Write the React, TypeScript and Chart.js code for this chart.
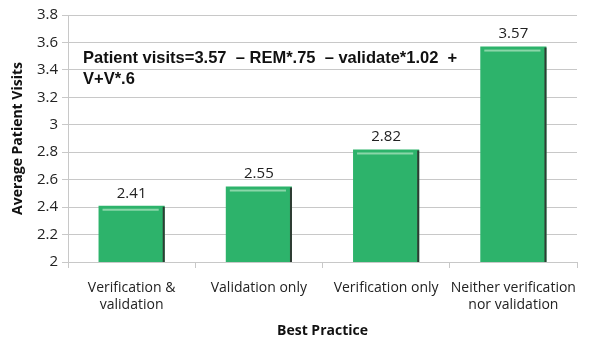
import React, { useEffect, useRef } from "react";
import { Chart, registerables } from "chart.js";
Chart.register(...registerables);

const categories: (string | string[])[] = [
  ["Verification &", "validation"],
  "Validation only",
  "Verification only",
  ["Neither verification", "nor validation"],
];
const values = [2.41, 2.55, 2.82, 3.57];
const yTicks = [2, 2.2, 2.4, 2.6, 2.8, 3, 3.2, 3.4, 3.6, 3.8];
const annotationLines = ["Patient visits=3.57  \u2013 REM*.75  \u2013 validate*1.02  +", "V+V*.6"];
const xTitle = "Best Practice";
const yTitle = "Average Patient Visits";

const barDecor = {
  id: "barDecor",
  afterDatasetsDraw(chart: any) {
    const ctx = chart.ctx;
    const meta = chart.getDatasetMeta(0);
    const area = chart.chartArea;
    ctx.save();
    meta.data.forEach((bar: any, i: number) => {
      const left = bar.x - bar.width / 2;
      const right = bar.x + bar.width / 2;
      const bottom = Math.min(bar.base, area.bottom);
      ctx.fillStyle = "#2f3b33";
      ctx.fillRect(right - 2, bar.y + 1, 2, bottom - bar.y - 1);
      ctx.fillStyle = "rgba(170,225,190,0.75)";
      ctx.fillRect(left + 4, bar.y + 3, bar.width - 10, 2);
      ctx.fillStyle = "#222";
      ctx.font = "15px 'Open Sans', sans-serif";
      ctx.textAlign = "center";
      ctx.textBaseline = "bottom";
      ctx.fillText(values[i].toFixed(2), bar.x, bar.y - 5);
    });
    const ys = chart.scales.y;
    ctx.fillStyle = "#111";
    ctx.font = "bold 16.5px 'Liberation Sans', Arial, sans-serif";
    ctx.textAlign = "left";
    ctx.textBaseline = "middle";
    ctx.fillText(annotationLines[0], area.left + 15, ys.getPixelForValue(3.48));
    ctx.fillText(annotationLines[1], area.left + 15, ys.getPixelForValue(3.33));
    ctx.restore();
  },
};

export default function App() {
  const ref = useRef<HTMLCanvasElement>(null);
  useEffect(() => {
    const chart = new Chart(ref.current!, {
      type: "bar",
      data: {
        labels: categories,
        datasets: [
          {
            data: values,
            backgroundColor: "#2db36b",
            borderWidth: 0,
            barPercentage: 0.52,
            categoryPercentage: 1,
          },
        ],
      },
      options: {
        animation: false,
        responsive: false,
        layout: { padding: { top: 15, right: 23, left: 6, bottom: 0 } },
        plugins: { legend: { display: false }, tooltip: { enabled: false } },
        scales: {
          x: {
            grid: {
              display: true,
              drawOnChartArea: false,
              offset: true,
              tickLength: 6,
              color: "#c8c8c8",
            },
            border: { color: "#c8c8c8" },
            ticks: {
              color: "#222",
              font: { family: "'Open Sans', sans-serif", size: 14 },
              maxRotation: 0,
              autoSkip: false,
              padding: 12,
            },
            title: {
              display: true,
              text: xTitle,
              color: "#111",
              font: { family: "'Open Sans', sans-serif", size: 14, weight: "bold" },
              padding: { top: 4, bottom: 12 },
            },
            afterFit(scale: any) {
              scale.height = 89;
            },
          },
          y: {
            min: 2,
            max: 3.8,
            afterBuildTicks(scale: any) {
              scale.ticks = yTicks.map((v) => ({ value: v }));
            },
            grid: { color: "#c8c8c8", tickLength: 6 },
            border: { color: "#c8c8c8" },
            ticks: {
              color: "#222",
              font: { family: "'Open Sans', sans-serif", size: 15 },
              padding: 4,
              callback: (v: any) => String(Math.round(Number(v) * 10) / 10),
            },
            title: {
              display: true,
              text: yTitle,
              color: "#111",
              font: { family: "'Open Sans', sans-serif", size: 14, weight: "bold" },
              padding: { bottom: 2 },
            },
            afterFit(scale: any) {
              scale.width = 62;
            },
          },
        },
      },
      plugins: [barDecor],
    } as any);
    return () => chart.destroy();
  }, []);
  return (
    <div style={{ position: "absolute", left: 0, top: 0, width: 600, height: 351, background: "#fff" }}>
      <canvas ref={ref} width={600} height={351} />
    </div>
  );
}
